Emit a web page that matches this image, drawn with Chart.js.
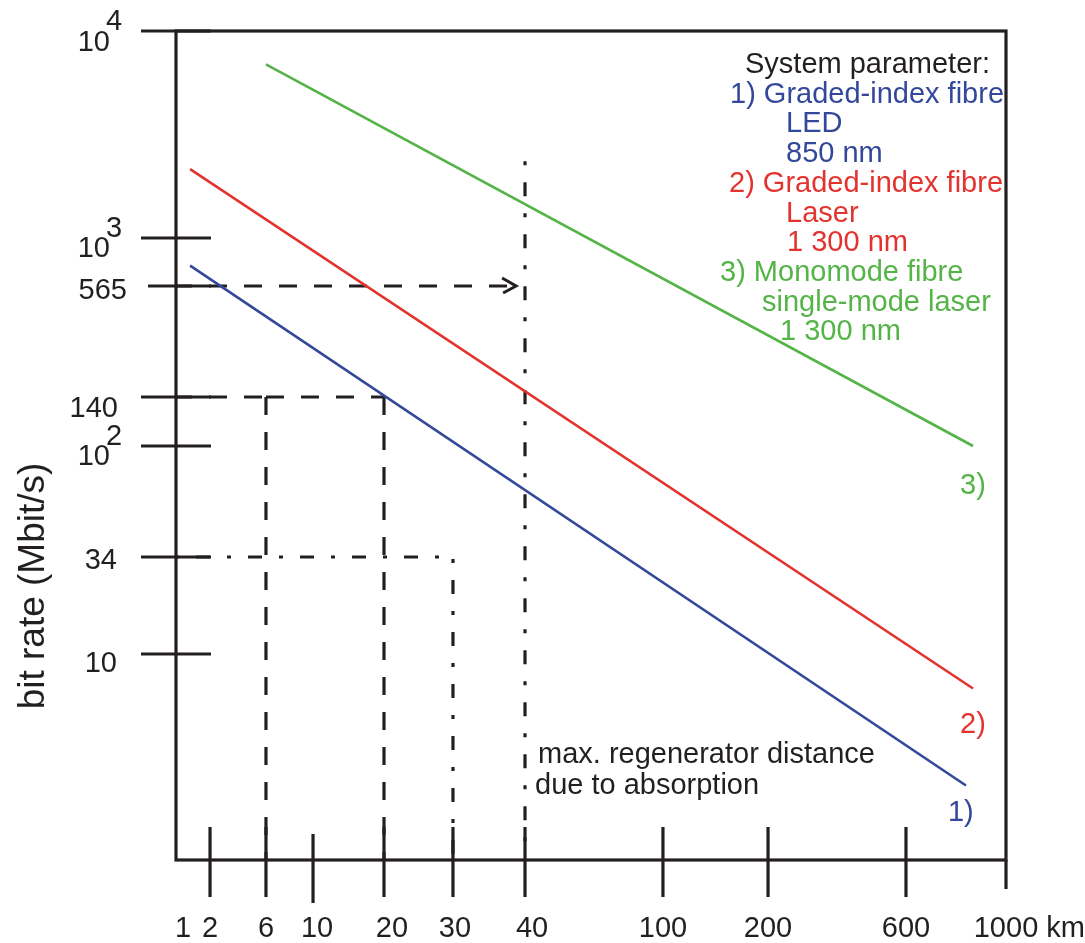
<!DOCTYPE html>
<html>
<head>
<meta charset="utf-8">
<title>Bit rate versus regenerator distance</title>
<script src="https://cdn.jsdelivr.net/npm/chart.js@4.4.1/dist/chart.umd.min.js"></script>
<style>
  html, body { margin: 0; padding: 0; background: #fff; }
  #wrap { position: relative; width: 1085px; height: 943px; }
</style>
</head>
<body>
<div id="wrap"><canvas id="chart"></canvas></div>
<script>
// x axis: regenerator distance in km, and what is written under each mark
const distanceTicks = [1, 2, 6, 10, 20, 30, 40, 100, 200, 600, 1000];
const distanceLabels = ['1', '2', '6', '10', '20', '30', '40', '100', '200', '600', '1000 km'];

// y axis: bit rate in Mbit/s
const bitRateTicks = [10, 34, 100, 140, 565, 1000, 10000];
const bitRateLabels = ['10', '34', '10^2', '140', '565', '10^3', '10^4'];

// axis ends
const X_MIN = 0.835, X_MAX = 1000;
const Y_MIN = 1, Y_MAX = 10000;

// the three systems, start and end of each straight line (km / Mbit/s)
const ledKm = [1.2, 815];
const ledRate = [720, 2.3];
const laserKm = [1.2, 845];
const laserRate = [2150, 6.8];
const monoKm = [6, 845];
const monoRate = [6900, 100];

// reading guides
const arrowKm = [X_MIN, 38.6];      // 565 Mbit/s -> 40 km arrow
const arrowRate = [565, 565];
const g140aKm = [X_MIN, 6];
const g140aRate = [140, 140];
const g140bKm = [6, 20];
const g140bRate = [140, 140];
const g6Km = [6, 6];
const g6Rate = [140, Y_MIN];
const g20Km = [20, 20];
const g20Rate = [140, Y_MIN];
const g34Km = [X_MIN, 30];
const g34Rate = [34, 34];
const g30Km = [30, 30];
const g30Rate = [34, Y_MIN];
const g40Km = [40, 40];              // max. regenerator distance due to absorption
const g40Rate = [2350, 1.2];

const INK = '#231f20';
const BLUE = '#33489a';
const RED = '#e2332e';
const GREEN = '#55b447';
const FONT = '"Liberation Sans", Arial, Helvetica, sans-serif';

// the drawing's axes are hand spaced, so each value has its own spot (fraction of the plot)
const xKnots = [[X_MIN, 0], [1, 0.0084], [2, 0.041], [6, 0.1084], [10, 0.1651], [20, 0.2506],
  [30, 0.3337], [40, 0.4205], [100, 0.5867], [200, 0.7133], [600, 0.8795], [X_MAX, 1]];
const yKnots = [[Y_MIN, 0], [10, 0.2485], [34, 0.3655], [100, 0.4994], [140, 0.5585],
  [565, 0.6924], [1000, 0.7503], [Y_MAX, 1]];
const KNOTS = { x: xKnots, y: yKnots };

function toFraction(knots, v) {
  const lv = Math.log10(v);
  let i = 0;
  while (i < knots.length - 2 && lv > Math.log10(knots[i + 1][0])) i++;
  const l0 = Math.log10(knots[i][0]), l1 = Math.log10(knots[i + 1][0]);
  const f0 = knots[i][1], f1 = knots[i + 1][1];
  return f0 + (lv - l0) / (l1 - l0) * (f1 - f0);
}

function fromFraction(knots, f) {
  let i = 0;
  while (i < knots.length - 2 && f > knots[i + 1][1]) i++;
  const l0 = Math.log10(knots[i][0]), l1 = Math.log10(knots[i + 1][0]);
  const f0 = knots[i][1], f1 = knots[i + 1][1];
  return Math.pow(10, l0 + (f - f0) / (f1 - f0) * (l1 - l0));
}

class SketchLogScale extends Chart.Scale {
  static id = 'sketchLog';
  static defaults = {};
  determineDataLimits() {
    const k = KNOTS[this.id];
    this.min = k[0][0];
    this.max = k[k.length - 1][0];
  }
  buildTicks() {
    return (this.id === 'x' ? distanceTicks : bitRateTicks).map(v => ({ value: v }));
  }
  getLabelForValue(v) { return String(v); }
  getPixelForValue(v) { return this.getPixelForDecimal(toFraction(KNOTS[this.id], v)); }
  getValueForPixel(p) { return fromFraction(KNOTS[this.id], this.getDecimalForPixel(p)); }
}
Chart.register(SketchLogScale);

function pts(km, rate) {
  return km.map((v, i) => ({ x: v, y: rate[i] }));
}

// small label nudges, as in the drawing
const xLabelNudge = { 10: 4, 20: 8, 30: 2, 40: 7 };
const yLabelSpot = { 10: [117, 18], 34: [117, 12], 100: [110, 19], 140: [118, 20],
  565: [127, 13], 1000: [110, 19], 10000: [110, 20] };

const legendLines = [
  ['System parameter:', INK, 745],
  ['1) Graded-index fibre', BLUE, 730],
  ['LED', BLUE, 786],
  ['850 nm', BLUE, 786],
  ['2) Graded-index fibre', RED, 729],
  ['Laser', RED, 786],
  ['1 300 nm', RED, 787],
  ['3) Monomode fibre', GREEN, 720],
  ['single-mode laser', GREEN, 762],
  ['1 300 nm', GREEN, 780]
];

const figureInk = {
  id: 'figureInk',
  afterDatasetsDraw(chart) {
    const { ctx, chartArea: a } = chart;
    const xs = chart.scales.x, ys = chart.scales.y;
    ctx.save();
    ctx.strokeStyle = INK;
    ctx.fillStyle = INK;
    ctx.lineWidth = 3.2;
    ctx.lineCap = 'butt';

    // frame
    ctx.strokeRect(a.left, a.top, a.right - a.left, a.bottom - a.top);

    // marks crossing the axes
    ctx.beginPath();
    distanceTicks.forEach(v => {
      if (v === 1) return; // 1 km is only written, not marked
      const px = xs.getPixelForValue(v);
      let up = 33, down = 37;
      if (v === 10) { up = 26; down = 43; }
      if (v === X_MAX) { up = 0; down = 29; }
      ctx.moveTo(px, a.bottom - up);
      ctx.lineTo(px, a.bottom + down);
    });
    bitRateTicks.forEach(v => {
      const py = ys.getPixelForValue(v);
      ctx.moveTo(a.left - (v === 565 ? 28 : 35), py);
      ctx.lineTo(a.left + 35, py);
    });
    ctx.stroke();

    // arrow head on the 565 guide
    chart.data.datasets.forEach((ds, i) => {
      const meta = chart.getDatasetMeta(i);
      const last = meta.data[meta.data.length - 1];
      if (ds.arrow) {
        ctx.beginPath();
        ctx.lineWidth = 3;
        ctx.moveTo(last.x - 14, last.y - 8);
        ctx.lineTo(last.x, last.y);
        ctx.lineTo(last.x - 13, last.y + 7);
        ctx.stroke();
      }
      if (ds.tag) {
        ctx.font = `29px ${FONT}`;
        ctx.textAlign = 'left';
        ctx.textBaseline = 'alphabetic';
        ctx.fillStyle = ds.borderColor;
        ctx.fillText(ds.tag, last.x + ds.tagAt[0], last.y + ds.tagAt[1]);
      }
    });

    ctx.fillStyle = INK;
    ctx.font = `29px ${FONT}`;
    ctx.textBaseline = 'alphabetic';

    // distance labels
    distanceTicks.forEach((v, i) => {
      const px = xs.getPixelForValue(v) + (xLabelNudge[v] || 0);
      const num = distanceLabels[i].split(' ')[0];
      const w = ctx.measureText(num).width;
      ctx.textAlign = 'left';
      ctx.fillText(distanceLabels[i], px - w / 2, 937);
    });

    // bit rate labels
    bitRateTicks.forEach((v, i) => {
      const py = ys.getPixelForValue(v);
      const [right, dy] = yLabelSpot[v];
      const [base, exp] = bitRateLabels[i].split('^');
      ctx.textAlign = 'right';
      ctx.fillText(base, right, py + dy);
      if (exp) {
        ctx.textAlign = 'left';
        ctx.fillText(exp, right - 4, py - 1);
      }
    });

    // note at the absorption limit
    const nx = xs.getPixelForValue(40);
    const ny = ys.getPixelForValue(3);
    ctx.textAlign = 'left';
    ctx.fillText('max. regenerator distance', nx + 13, ny + 1);
    ctx.fillText('due to absorption', nx + 10, ny + 32);

    // system parameter block
    legendLines.forEach(([text, color, left], i) => {
      ctx.fillStyle = color;
      ctx.fillText(text, left, 73 + i * 29.7);
    });

    // y axis title
    ctx.fillStyle = INK;
    ctx.font = `37px ${FONT}`;
    ctx.translate(34, 586);
    ctx.rotate(-Math.PI / 2);
    ctx.textAlign = 'center';
    ctx.textBaseline = 'middle';
    ctx.fillText('bit rate (Mbit/s)', 0, 0);

    ctx.restore();
  }
};

const dashed = { borderColor: INK, borderWidth: 3.2, borderDash: [18, 17], pointRadius: 0, fill: false };
const dashDot = { borderColor: INK, borderWidth: 3.2, borderDash: [14, 17, 4, 17], pointRadius: 0, fill: false };

new Chart(document.getElementById('chart'), {
  type: 'line',
  data: {
    datasets: [
      { label: '1)', tag: '1)', tagAt: [-18, 36], data: pts(ledKm, ledRate), borderColor: BLUE, borderWidth: 2.6, pointRadius: 0, fill: false },
      { label: '2)', tag: '2)', tagAt: [-13, 45], data: pts(laserKm, laserRate), borderColor: RED, borderWidth: 2.6, pointRadius: 0, fill: false },
      { label: '3)', tag: '3)', tagAt: [-13, 48], data: pts(monoKm, monoRate), borderColor: GREEN, borderWidth: 2.6, pointRadius: 0, fill: false },
      Object.assign({ label: '565', arrow: true, data: pts(arrowKm, arrowRate), borderDashOffset: 2 }, dashed),
      Object.assign({ label: '140 a', data: pts(g140aKm, g140aRate), borderDashOffset: 2 }, dashed),
      Object.assign({ label: '140 b', data: pts(g140bKm, g140bRate), borderDashOffset: 0 }, dashed),
      Object.assign({ label: '6 km', data: pts(g6Km, g6Rate), borderDashOffset: 0 }, dashed),
      Object.assign({ label: '20 km', data: pts(g20Km, g20Rate), borderDashOffset: 0 }, dashed),
      Object.assign({ label: '34', data: pts(g34Km, g34Rate), borderDashOffset: 32 }, dashDot),
      Object.assign({ label: '30 km', data: pts(g30Km, g30Rate), borderDashOffset: 29 }, dashDot),
      Object.assign({ label: '40 km', data: pts(g40Km, g40Rate), borderDashOffset: 31 }, dashDot)
    ]
  },
  options: {
    responsive: true,
    maintainAspectRatio: false,
    animation: false,
    events: [],
    layout: { padding: { left: 176, top: 31, right: 79, bottom: 83 } },
    scales: {
      x: { type: 'sketchLog', position: 'bottom', display: false },
      y: { type: 'sketchLog', position: 'left', display: false }
    },
    elements: { line: { tension: 0 } },
    plugins: {
      legend: { display: false },
      tooltip: { enabled: false }
    }
  },
  plugins: [figureInk]
});
</script>
</body>
</html>
